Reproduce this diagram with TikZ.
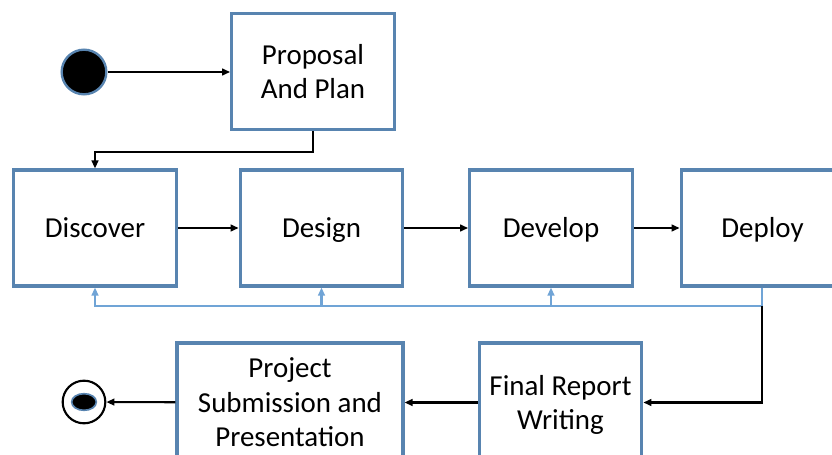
\documentclass[tikz,border=0pt]{standalone}
\usepackage{fontspec}
\setmainfont{Carlito}
\usetikzlibrary{arrows.meta,shapes.geometric}

\definecolor{boxline}{RGB}{88,132,176}
\definecolor{loopline}{RGB}{112,164,214}
% line strut so every box sets its text at the same height
\newcommand{\phstrut}{\rule[-6.3pt]{0pt}{29.5pt}}

\begin{document}
\begin{tikzpicture}[x=0.03cm, y=-0.03cm,
    phase/.style={draw=boxline, line width=2.6pt, fill=white, align=center,
        minimum width=4.88cm, minimum height=3.48cm, inner sep=2pt,
        font=\fontsize{24.7}{29.5}\selectfont},
    flow/.style={draw=black, line width=1.8pt, -{Triangle[length=0.24cm,width=0.2cm]}},
    back/.style={draw=loopline, line width=1.8pt, -{Triangle[length=0.24cm,width=0.2cm]}}]
    \useasboundingbox (0,0) rectangle (832,455);

    % start and end markers
    \node[circle, fill=black, draw=boxline, line width=2pt, minimum size=1.34cm] (start) at (84,72) {};
    \node[circle, draw=black, line width=1.8pt, minimum size=1.28cm] (stop) at (84,402) {};
    \node[ellipse, fill=black, draw=boxline, line width=1.4pt, minimum width=0.74cm, minimum height=0.5cm, inner sep=0pt] at (stop.center) {};

    % the phases
    \node[phase] (plan) at (313,71.5) {Proposal\phstrut\\And Plan\phstrut};
    \node[phase] (disc) at (95,228) {Discover\phstrut};
    \node[phase] (desn) at (321.5,228) {Design\phstrut};
    \node[phase] (devl) at (551,228) {Develop\phstrut};
    \node[phase] (depl) at (762.5,228) {Deploy\phstrut};
    \node[phase, minimum height=3.57cm] (rprt) at (560.5,402.5) {Final Report\phstrut\\Writing\phstrut};
    \node[phase, minimum width=6.78cm, minimum height=3.57cm] (subm) at (290,402.5) {Project\phstrut\\Submission and\phstrut\\Presentation\phstrut};

    \coordinate (turn) at (762,306);

    % feedback loop back to the earlier phases
    \draw[back] (depl.south -| turn) -- (turn) -| (disc.south);
    \draw[back] (turn -| desn.south) -- (desn.south);
    \draw[back] (turn -| devl.south) -- (devl.south);

    % main flow
    \draw[flow] (start) -- (plan.west |- start);
    \draw[flow] (plan.south) -- ++(0,21) -| (disc.north);
    \draw[flow] (disc) -- (desn);
    \draw[flow] (desn) -- (devl);
    \draw[flow] (devl) -- (depl);
    \draw[flow] (turn) |- (rprt.east);
    \draw[flow] (rprt) -- (subm);
    \draw[flow] (subm) -- (stop);
\end{tikzpicture}
\end{document}
